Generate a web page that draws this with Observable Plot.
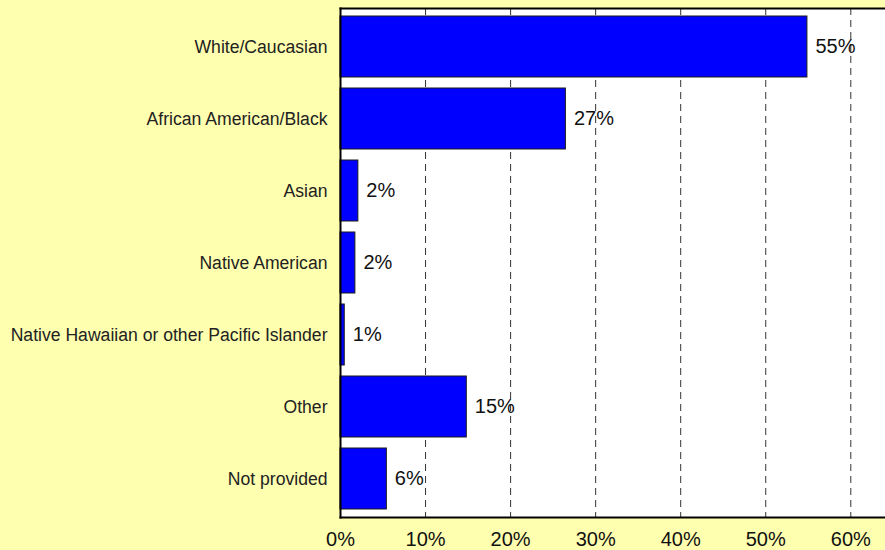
<!DOCTYPE html>
<html>
<head>
<meta charset="utf-8">
<script src="https://cdn.jsdelivr.net/npm/d3@7"></script>
<script src="https://cdn.jsdelivr.net/npm/@observablehq/plot@0.6"></script>
<style>
  html, body { margin: 0; padding: 0; background: #ffffb0; }
  #chart svg { display: block; }
</style>
</head>
<body>
<div id="chart"></div>
<script>
const categories = [
  "White/Caucasian",
  "African American/Black",
  "Asian",
  "Native American",
  "Native Hawaiian or other Pacific Islander",
  "Other",
  "Not provided"
];
const values = [54.9, 26.5, 2.1, 1.75, 0.5, 14.85, 5.45];
const valueLabels = ["55%", "27%", "2%", "2%", "1%", "15%", "6%"];
const xTicks = [0, 10, 20, 30, 40, 50, 60];

const data = categories.map((c, i) => ({category: c, value: values[i], label: valueLabels[i]}));

const chart = Plot.plot({
  width: 885,
  height: 550,
  marginLeft: 340,
  marginRight: 0,
  marginTop: 8,
  marginBottom: 33,
  style: {background: "#ffffb0", fontFamily: "'Liberation Sans', Arial, sans-serif", color: "black"},
  x: {domain: [0, 64.08], ticks: xTicks, tickFormat: d => d + "%", label: null},
  y: {domain: categories, paddingInner: 0.15, paddingOuter: 0.075, label: null},
  marks: [
    Plot.frame({fill: "white", stroke: null}),
    Plot.gridX(xTicks, {stroke: "#333", strokeOpacity: 1, strokeWidth: 1, strokeDasharray: "7,5"}),
    Plot.barX(data, {x: "value", y: "category", fill: "#0000ff", stroke: "#1a1a1a", strokeWidth: 1}),
    Plot.text(data, {x: "value", y: "category", text: "label", dx: 8, textAnchor: "start", fontSize: 20, fill: "#111"}),
    Plot.axisX(xTicks, {tickSize: 0, tickPadding: 14, fontSize: 20, fill: "#111", tickFormat: d => d + "%", label: null}),
    Plot.axisY({tickSize: 0, tickPadding: 13, fontSize: 17.6, fill: "#222", label: null}),
    Plot.frame({anchor: "top", stroke: "black", strokeWidth: 2}),
    Plot.frame({anchor: "left", stroke: "black", strokeWidth: 2}),
    Plot.frame({anchor: "bottom", stroke: "black", strokeWidth: 2})
  ]
});
document.getElementById("chart").appendChild(chart);
</script>
</body>
</html>
